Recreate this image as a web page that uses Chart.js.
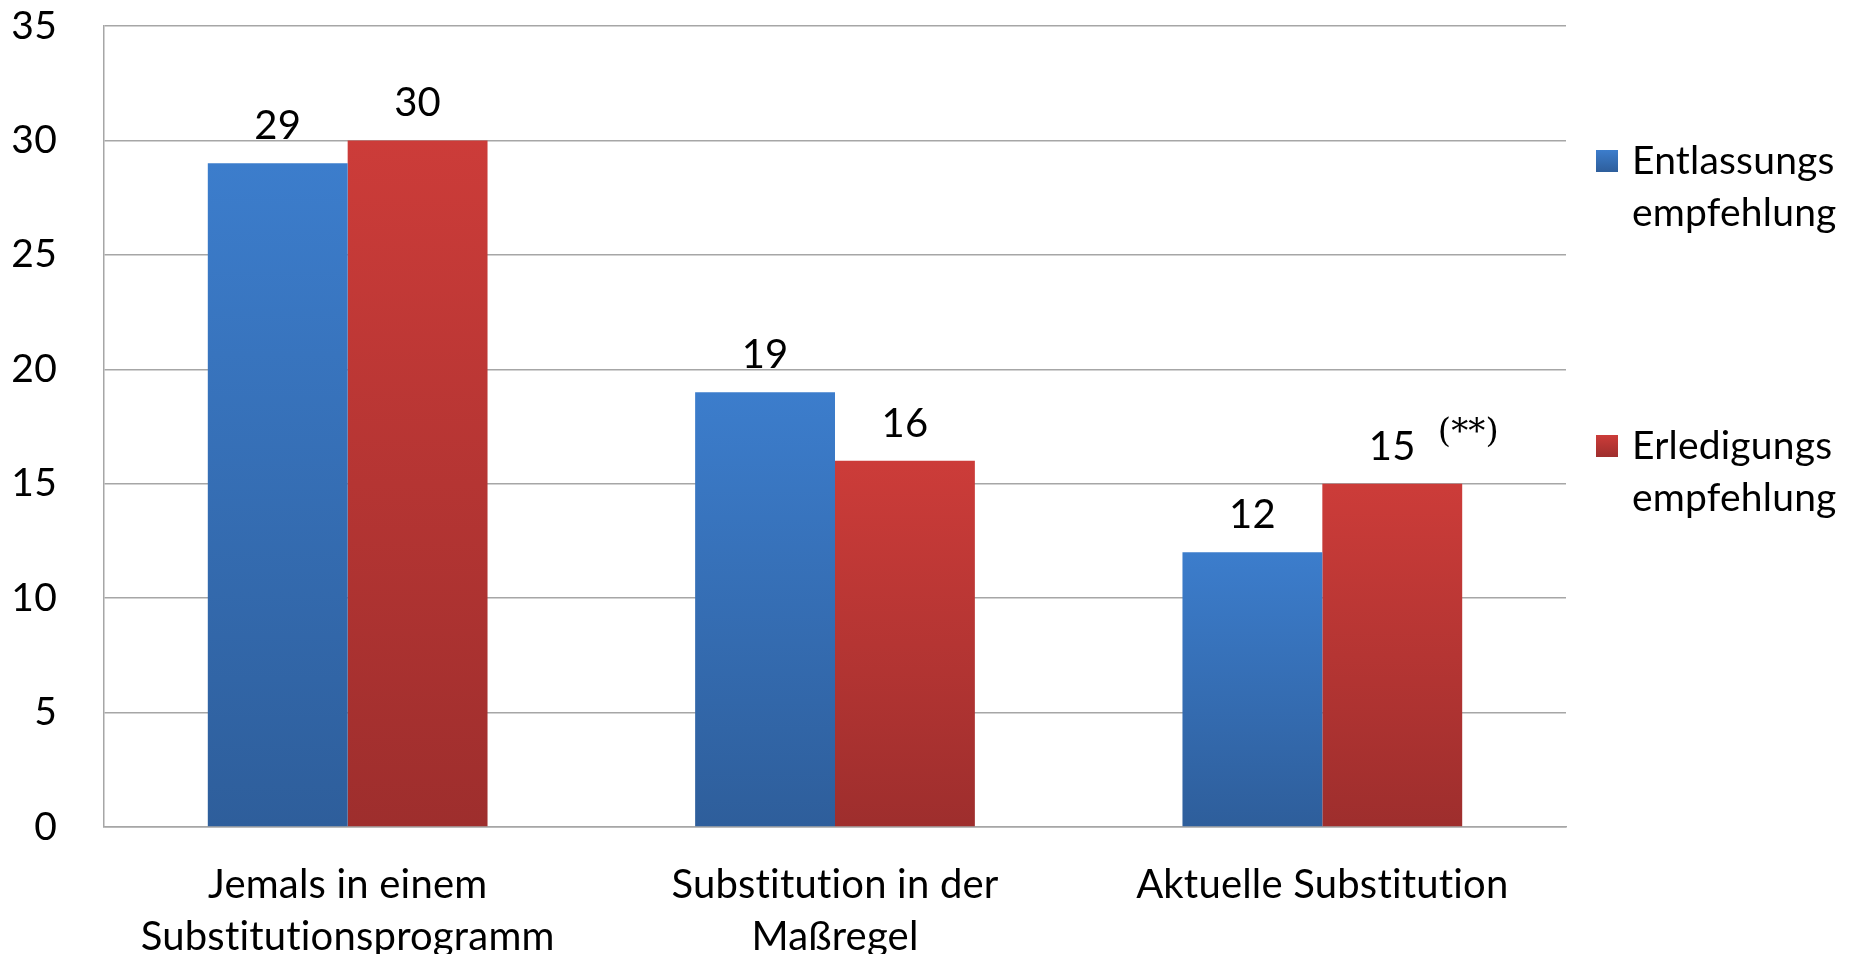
<!DOCTYPE html>
<html>
<head>
<meta charset="utf-8">
<script src="https://cdn.jsdelivr.net/npm/chart.js@4.4.1/dist/chart.umd.min.js"></script>
<style>
  html, body { margin: 0; padding: 0; background: #fff; }
  #wrap { width: 1857px; height: 954px; }
</style>
</head>
<body>
<div id="wrap"><canvas id="chart"></canvas></div>
<script>
// Data
const categories = [
    ["Jemals in einem", "Substitutionsprogramm"],
    ["Substitution in der", "Maßregel"],
    "Aktuelle Substitution",
];
const seriesNames = [["Entlassungs", "empfehlung"], ["Erledigungs", "empfehlung"]];
const entlassungValues = [29, 19, 12];
const erledigungValues = [30, 16, 15];
const erledigungNotes = ["", "", "(**)"];
const yMin = 0;
const yMax = 35;
const yStep = 5;

const FONT = "Lato, 'Open Sans', sans-serif";
const COLORS = {
    blueTop: "rgb(60, 125, 204)",
    blueBottom: "rgb(46, 94, 155)",
    redTop: "rgb(204, 60, 57)",
    redBottom: "rgb(158, 46, 45)",
    grid: "#a6a6a6",
};

// gradient per bar, from its top down to zero
function barGradient(top, bottom) {
    return (ctx) => {
        const chart = ctx.chart;
        if (ctx.type !== "data" || !chart.chartArea || !chart.scales.y) return top;
        const y = chart.scales.y;
        const y0 = y.getPixelForValue(ctx.parsed.y);
        const y1 = y.getPixelForValue(0);
        const g = chart.ctx.createLinearGradient(0, y0, 0, y1);
        g.addColorStop(0, top);
        g.addColorStop(1, bottom);
        return g;
    };
}

// no "ti" ligatures, like the original
const noLigatures = {
    id: "noLigatures",
    beforeDraw(chart) {
        chart.ctx.letterSpacing = "0.2px";
    },
};

const valueLabels = {
    id: "valueLabels",
    afterDatasetsDraw(chart) {
        const ctx = chart.ctx;
        ctx.save();
        ctx.fillStyle = "#000";
        ctx.textAlign = "center";
        ctx.textBaseline = "alphabetic";
        chart.data.datasets.forEach((ds, di) => {
            const meta = chart.getDatasetMeta(di);
            meta.data.forEach((bar, i) => {
                const text = String(ds.data[i]);
                ctx.font = "40px " + FONT;
                const base = bar.y - 24;
                ctx.fillText(text, bar.x, base);
                const note = ds.notes ? ds.notes[i] : "";
                if (note) {
                    const w = ctx.measureText(text).width;
                    ctx.font = "34px 'DejaVu Serif', serif";
                    ctx.textAlign = "left";
                    ctx.fillText(note, bar.x + w / 2 + 22, base - 18);
                    ctx.textAlign = "center";
                }
            });
        });
        ctx.restore();
    },
};

const sideLegend = {
    id: "sideLegend",
    afterDraw(chart) {
        const ctx = chart.ctx;
        const area = chart.chartArea;
        const fills = [[COLORS.blueTop, COLORS.blueBottom], [COLORS.redTop, COLORS.redBottom]];
        const centers = [161, 446];
        ctx.save();
        ctx.font = "39px " + FONT;
        ctx.textBaseline = "middle";
        chart.data.datasets.forEach((ds, di) => {
            const x = area.right + 30;
            const cy = centers[di];
            const g = ctx.createLinearGradient(0, cy - 11, 0, cy + 11);
            g.addColorStop(0, fills[di][0]);
            g.addColorStop(1, fills[di][1]);
            ctx.fillStyle = g;
            ctx.fillRect(x, cy - 11, 22, 22);
            ctx.fillStyle = "#000";
            ds.label.forEach((line, li) => {
                ctx.fillText(line, x + 36, cy + li * 52);
            });
        });
        ctx.restore();
    },
};

function initializeChart() {
    const ctx = document.getElementById("chart").getContext("2d");
    new Chart(ctx, {
        type: "bar",
        data: {
            labels: categories,
            datasets: [
                {
                    label: seriesNames[0],
                    data: entlassungValues,
                    backgroundColor: barGradient(COLORS.blueTop, COLORS.blueBottom),
                },
                {
                    label: seriesNames[1],
                    data: erledigungValues,
                    notes: erledigungNotes,
                    backgroundColor: barGradient(COLORS.redTop, COLORS.redBottom),
                },
            ],
        },
        options: {
            responsive: true,
            maintainAspectRatio: false,
            animation: false,
            layout: { padding: { left: 0, top: 26, right: 291, bottom: 0 } },
            datasets: { bar: { categoryPercentage: 0.574, barPercentage: 1 } },
            plugins: {
                legend: { display: false },
                tooltip: { enabled: false },
            },
            scales: {
                x: {
                    grid: { display: false },
                    border: { display: true, color: COLORS.grid, width: 1.5 },
                    ticks: {
                        color: "#000",
                        font: { family: FONT, size: 40, lineHeight: 1.3 },
                        padding: 24,
                        maxRotation: 0,
                        autoSkip: false,
                    },
                    afterFit: (scale) => {
                        scale.height = 127;
                        scale.paddingLeft = 0;
                        scale.paddingRight = 0;
                    },
                },
                y: {
                    min: yMin,
                    max: yMax,
                    grid: { color: COLORS.grid, lineWidth: 1.5, drawTicks: false },
                    border: { display: true, color: COLORS.grid, width: 1.5 },
                    ticks: {
                        stepSize: yStep,
                        color: "#000",
                        font: { family: FONT, size: 39 },
                        padding: 47,
                    },
                    afterFit: (scale) => {
                        scale.width = 104;
                        scale.paddingTop = 0;
                        scale.paddingBottom = 0;
                    },
                },
            },
        },
        plugins: [noLigatures, valueLabels, sideLegend],
    });
}

document.addEventListener("DOMContentLoaded", initializeChart);
</script>
</body>
</html>
